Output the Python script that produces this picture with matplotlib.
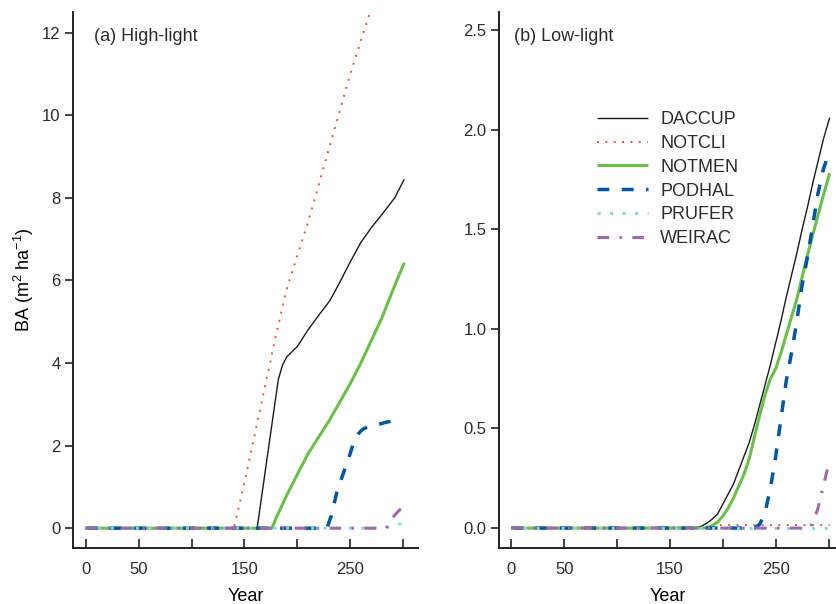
import matplotlib
matplotlib.use('Agg')
import matplotlib.pyplot as plt

plt.rcParams['font.family'] = ['Liberation Sans', 'DejaVu Sans']
plt.rcParams['mathtext.fontset'] = 'custom'
plt.rcParams['mathtext.rm'] = 'Liberation Sans'
plt.rcParams['mathtext.it'] = 'Liberation Sans:italic'
plt.rcParams['text.color'] = '#2b2b2b'

species = ['DACCUP', 'NOTCLI', 'NOTMEN', 'PODHAL', 'PRUFER', 'WEIRAC']

# (a) high-light: year / basal area pairs per species
hi_years = {
    'DACCUP': [0, 162, 182, 186, 190, 200, 210, 220, 231, 240, 250, 260, 270, 280, 292, 301],
    'NOTCLI': [0, 140, 150, 160, 170, 180, 190, 200, 210, 220, 230, 240, 250, 260, 270],
    'NOTMEN': [0, 176, 180, 190, 200, 206, 210, 220, 230, 240, 250, 260, 270, 280, 290, 301],
    'PODHAL': [0, 228, 232, 237, 243, 248, 253, 258, 262, 268, 275, 283, 294],
    'PRUFER': [0, 282, 297, 301],
    'WEIRAC': [0, 284, 288, 295, 302],
}
hi_ba = {
    'DACCUP': [0, 0, 3.6, 3.95, 4.15, 4.4, 4.8, 5.15, 5.52, 5.95, 6.45, 6.92, 7.28, 7.6, 8.0, 8.45],
    'NOTCLI': [0, 0, 1.1, 2.3, 3.5, 4.7, 5.8, 6.6, 7.4, 8.3, 9.2, 10.1, 11.0, 11.8, 12.6],
    'NOTMEN': [0, 0, 0.25, 0.8, 1.3, 1.6, 1.8, 2.2, 2.6, 3.05, 3.5, 4.0, 4.55, 5.1, 5.75, 6.43],
    'PODHAL': [0, 0, 0.3, 0.84, 1.3, 1.65, 2.06, 2.3, 2.4, 2.47, 2.5, 2.56, 2.62],
    'PRUFER': [0, 0, 0.1, 0.1],
    'WEIRAC': [0, 0, 0.2, 0.4, 0.58],
}

# (b) low-light
lo_years = {
    'DACCUP': [0, 175, 180, 185, 190, 195, 200, 205, 210, 215, 220, 225, 230, 235, 240,
               245, 250, 255, 260, 265, 270, 275, 280, 285, 290, 295, 301],
    'NOTCLI': [0, 185, 195, 301],
    'NOTMEN': [0, 182, 186, 190, 195, 200, 205, 210, 215, 220, 225, 230, 235, 240, 245,
               250, 255, 260, 265, 270, 275, 280, 285, 290, 295, 301],
    'PODHAL': [0, 230, 235, 240, 245, 250, 255, 260, 265, 270, 275, 280, 285, 290, 295, 300],
    'PRUFER': [0, 301],
    'WEIRAC': [0, 282, 286, 290, 295, 300],
}
lo_ba = {
    'DACCUP': [0, 0.003, 0.01, 0.025, 0.045, 0.07, 0.12, 0.17, 0.22, 0.29, 0.36, 0.43, 0.52, 0.62, 0.72,
               0.82, 0.93, 1.04, 1.16, 1.27, 1.38, 1.5, 1.61, 1.73, 1.84, 1.95, 2.06],
    'NOTCLI': [0, 0, 0.015, 0.015],
    'NOTMEN': [0, 0, 0.005, 0.012, 0.03, 0.06, 0.1, 0.15, 0.21, 0.27, 0.35, 0.46, 0.57, 0.67, 0.75,
               0.8, 0.88, 0.97, 1.06, 1.15, 1.26, 1.37, 1.47, 1.57, 1.67, 1.78],
    'PODHAL': [0, 0, 0.02, 0.08, 0.2, 0.36, 0.55, 0.74, 0.88, 1.04, 1.22, 1.36, 1.52, 1.68, 1.8, 1.88],
    'PRUFER': [0, 0],
    'WEIRAC': [0, 0, 0.04, 0.1, 0.21, 0.32],
}

styles = {
    'DACCUP': dict(color='#1a1a1a', lw=1.0, ls='-'),
    'NOTCLI': dict(color='#f05532', lw=1.4, ls=(0, (1, 3.3))),
    'NOTMEN': dict(color='#6abf4b', lw=2.2, ls='-'),
    'PODHAL': dict(color='#0055a4', lw=2.5, ls=(0, (3.4, 3.6))),
    'PRUFER': dict(color='#8fd6d6', lw=2.2, ls=(0, (1, 3.1))),
    'WEIRAC': dict(color='#9b6bb0', lw=2.2, ls=(0, (3.8, 3.4, 0.8, 3.4))),
}

fig = plt.figure(figsize=(8.36, 6.04), dpi=100)
ax1 = fig.add_axes([0.0873, 0.0927, 0.4127, 0.8874])
ax2 = fig.add_axes([0.597, 0.0927, 0.403, 0.8874])


def style_axis(ax, xlim, ylim, yticks, ylabels):
    for s in ['top', 'right']:
        ax.spines[s].set_visible(False)
    for s in ['left', 'bottom']:
        ax.spines[s].set_linewidth(1.4)
        ax.spines[s].set_color('#222222')
    ax.set_xlim(*xlim)
    ax.set_ylim(*ylim)
    ax.set_xticks([0, 50, 100, 150, 200, 250, 300])
    ax.set_xticklabels(['0', '50', '', '150', '', '250', ''])
    ax.set_yticks(yticks)
    ax.set_yticklabels(ylabels)
    ax.tick_params(axis='x', direction='in', length=6.5, width=1.2, pad=10,
                   labelsize=12, colors='#222222', labelcolor='#2b2b2b')
    ax.tick_params(axis='y', direction='out', length=6, width=1.2, pad=3,
                   labelsize=12, colors='#222222', labelcolor='#2b2b2b')
    ax.set_xlabel('Year', fontsize=13, labelpad=8)


for ax, yrs, ba in [(ax1, hi_years, hi_ba), (ax2, lo_years, lo_ba)]:
    for sp in species:
        st = styles[sp]
        ax.plot(yrs[sp], ba[sp], color=st['color'], lw=st['lw'], linestyle=st['ls'],
                label=sp, solid_capstyle='butt', dash_capstyle='butt')

style_axis(ax1, (-12, 314), (-0.48, 12.5), [0, 2, 4, 6, 8, 10, 12],
           ['0', '2', '4', '6', '8', '10', '12'])
style_axis(ax2, (-11.5, 307), (-0.1, 2.59), [0, 0.5, 1.0, 1.5, 2.0, 2.5],
           ['0.0', '0.5', '1.0', '1.5', '2.0', '2.5'])

ax1.set_ylabel(r'BA (m$^2$ ha$^{-1}$)', fontsize=13, labelpad=4)

ax1.text(0.06, 0.955, '(a) High-light', transform=ax1.transAxes, fontsize=13,
         va='center', ha='left')
ax2.text(0.045, 0.955, '(b) Low-light', transform=ax2.transAxes, fontsize=13,
         va='center', ha='left')

ax2.legend(loc='upper left', bbox_to_anchor=(597 / 836, 1 - 111 / 604),
           bbox_transform=fig.transFigure, frameon=False, fontsize=13,
           handlelength=2.8, handletextpad=0.7, labelspacing=0.38, borderpad=0,
           borderaxespad=0)

fig.savefig('out.png', dpi=100)
